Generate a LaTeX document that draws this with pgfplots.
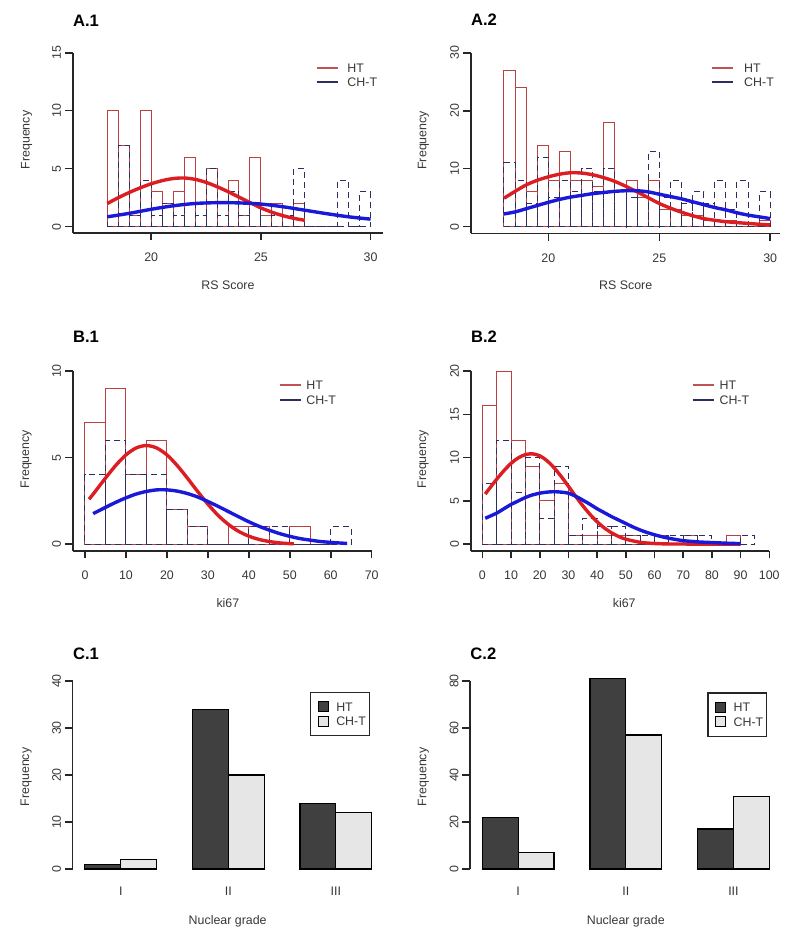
\documentclass[border=0pt]{standalone}
\usepackage{fontspec}
\setmainfont{Liberation Sans}
\usepackage{pgfplots}
\pgfplotsset{compat=1.18}

\definecolor{htred}{RGB}{185,65,65}
\definecolor{chnavy}{RGB}{45,45,95}
\definecolor{curvered}{RGB}{220,30,35}
\definecolor{curveblue}{RGB}{25,25,215}
\definecolor{txt}{RGB}{55,55,55}
\definecolor{bardark}{RGB}{64,64,64}
\definecolor{barlight}{RGB}{230,230,230}

\pgfplotsset{
  rpanel/.style={
    scale only axis, clip=false,
    axis x line*=bottom, axis y line*=left,
    axis line style={line width=0.8pt, color=black!85},
    tick align=outside,
    major tick length=3.85pt,
    tick style={line width=0.8pt, color=black!85},
    tick label style={font=\fontsize{6.2}{7}\selectfont, text=txt},
    /pgf/number format/assume math mode=true,
    xticklabel style={anchor=center},
    yticklabel style={rotate=90, anchor=center},
    xticklabel shift=8.65pt,
    yticklabel shift=4.15pt,
    every axis title/.style={anchor=west, inner sep=0pt, font=\fontsize{8.3}{9}\selectfont\bfseries},
    every axis x label/.style={anchor=center, inner sep=0pt, font=\fontsize{6.2}{7}\selectfont, text=txt},
    every axis y label/.style={rotate=90, anchor=center, inner sep=0pt, font=\fontsize{6.2}{7}\selectfont, text=txt},
  },
  lineleg/.style={
    legend style={draw=none, fill=none, anchor=north west, inner sep=0pt,
      font=\fontsize{6.2}{7}\selectfont, text=txt, row sep=0pt,
      nodes={inner xsep=2.4pt, inner ysep=1.25pt, text height=4.6pt, text depth=0pt}},
    legend cell align=left,
    legend image code/.code={\draw[##1] (0pt,0pt) -- (10.5pt,0pt);},
  },
  boxleg/.style={
    legend style={draw=black!85, line width=0.6pt, fill=white, anchor=north west,
      inner xsep=0.5pt, inner ysep=3.5pt,
      font=\fontsize{6.2}{7}\selectfont, text=txt, row sep=0pt, column sep=2.6pt,
      nodes={inner xsep=1.2pt, inner ysep=1.35pt, text height=4.6pt, text depth=0pt}},
    legend cell align=left,
    legend image code/.code={\path[draw=none, fill=none] (0pt,0pt) rectangle (3.3pt,0pt);
      \draw[##1] (3.3pt,-2.5pt) rectangle (8.3pt,2.5pt);},
  },
  hthist/.style={ybar interval, draw=htred, fill=none, line width=0.5pt, forget plot},
  chhist/.style={ybar interval, draw=chnavy, fill=none, line width=0.5pt, dash pattern=on 3pt off 2pt, forget plot},
  htcurve/.style={curvered, line width=1.7pt, smooth, forget plot},
  chcurve/.style={curveblue, line width=1.7pt, smooth, forget plot},
}

\begin{document}
\begin{tikzpicture}
\path[use as bounding box] (0,0) rectangle (400pt,-471.5pt);

% ---------- A.1 ----------
\begin{axis}[rpanel, lineleg, at={(36.35pt,-116.35pt)}, anchor=south west,
  width=155.3pt, height=90pt,
  xmin=16.42, xmax=30.58, ymin=-0.52, ymax=15,
  xtick={20,25,30}, ytick={0,5,10,15},
  title={A.1}, title style={at={(axis description cs:0,1.18)}},
  xlabel={RS Score}, xlabel style={at={(axis description cs:0.5,-0.29)}},
  ylabel={Frequency}, ylabel style={at={(axis description cs:-0.148,0.515)}},
  legend style={at={(axis description cs:0.781,0.957)}, column sep=2pt}]
\addplot[hthist] coordinates {(18,10) (18.5,7) (19,1) (19.5,10) (20,3) (20.5,2) (21,3) (21.5,6) (22,2)
  (22.5,5) (23,2) (23.5,4) (24,1) (24.5,6) (25,1) (25.5,2) (26,0) (26.5,2) (27,0)};
\addplot[chhist] coordinates {(18,1) (18.5,7) (19,1) (19.5,4) (20,1) (20.5,2) (21,1) (21.5,2) (22,1)
  (22.5,5) (23,1) (23.5,3) (24,1) (24.5,2) (25,2) (25.5,1) (26,1) (26.5,5) (27,0) (27.5,0) (28,0)
  (28.5,4) (29,0) (29.5,3) (30,0)};
\addplot[htcurve] coordinates {(18,2.0) (18.5,2.5) (19,2.95) (19.5,3.35) (20,3.7) (20.5,3.97) (21,4.15)
  (21.5,4.2) (22,4.08) (22.5,3.82) (23,3.45) (23.5,3.02) (24,2.55) (24.5,2.08) (25,1.62) (25.5,1.25)
  (26,0.95) (26.5,0.72) (27,0.55)};
\addplot[chcurve] coordinates {(18,0.85) (19,1.15) (20,1.5) (21,1.8) (22,2.0) (23,2.07) (24,2.05)
  (25,1.95) (26,1.72) (27,1.42) (28,1.12) (29,0.85) (30,0.65)};
\addlegendimage{htred!90!white, line width=1pt}\addlegendentry{HT}
\addlegendimage{chnavy, line width=1pt}\addlegendentry{CH-T}
\end{axis}

% ---------- A.2 ----------
\begin{axis}[rpanel, lineleg, at={(235.35pt,-116.65pt)}, anchor=south west,
  width=154.65pt, height=90.3pt,
  xmin=16.5, xmax=30.44, ymin=-1.14, ymax=30,
  xtick={20,25,30}, ytick={0,10,20,30},
  title={A.2}, title style={at={(axis description cs:0,1.18)}},
  xlabel={RS Score}, xlabel style={at={(axis description cs:0.501,-0.29)}},
  ylabel={Frequency}, ylabel style={at={(axis description cs:-0.153,0.515)}},
  legend style={at={(axis description cs:0.777,0.957)}, column sep=2.5pt}]
\addplot[hthist] coordinates {(18,27) (18.5,24) (19,6) (19.5,14) (20,8) (20.5,13) (21,8) (21.5,8) (22,7)
  (22.5,18) (23,6) (23.5,8) (24,5) (24.5,8) (25,3) (25.5,3) (26,2) (26.5,2) (27,1) (27.5,1) (28,1)
  (28.5,0) (29,0) (29.5,1) (30,0)};
\addplot[chhist] coordinates {(18,11) (18.5,8) (19,4) (19.5,12) (20,5) (20.5,8) (21,6) (21.5,10) (22,6)
  (22.5,10) (23,6) (23.5,5) (24,6) (24.5,13) (25,5) (25.5,8) (26,4) (26.5,6) (27,4) (27.5,8) (28,3)
  (28.5,8) (29,2) (29.5,6) (30,0)};
\addplot[htcurve] coordinates {(18,4.9) (18.5,6.1) (19,7.2) (19.5,8.0) (20,8.6) (20.5,9.05) (21,9.3)
  (21.5,9.25) (22,8.95) (22.5,8.45) (23,7.8) (23.5,6.95) (24,6.0) (24.5,5.0) (25,4.0) (25.5,3.2)
  (26,2.5) (26.5,1.9) (27,1.4) (27.5,1.1) (28,0.86) (28.5,0.7) (29,0.57) (29.5,0.42) (30,0.3)};
\addplot[chcurve] coordinates {(18,2.2) (18.5,2.55) (19,3.1) (19.5,3.65) (20,4.2) (20.5,4.7) (21,5.1)
  (21.5,5.4) (22,5.7) (22.5,5.9) (23,6.1) (23.5,6.2) (24,6.2) (24.5,6.0) (25,5.6) (25.5,5.2) (26,4.8)
  (26.5,4.3) (27,3.8) (27.5,3.3) (28,2.9) (28.5,2.4) (29,2.0) (29.5,1.7) (30,1.4)};
\addlegendimage{htred!90!white, line width=1pt}\addlegendentry{HT}
\addlegendimage{chnavy, line width=1pt}\addlegendentry{CH-T}
\end{axis}

% ---------- B.1 ----------
\begin{axis}[rpanel, lineleg, at={(36.35pt,-275.35pt)}, anchor=south west,
  width=149.5pt, height=89.85pt,
  xmin=-3, xmax=70, ymin=-0.37, ymax=10,
  xtick={0,10,...,70}, ytick={0,5,10},
  title={B.1}, title style={at={(axis description cs:0,1.189)}},
  xlabel={ki67}, xlabel style={at={(axis description cs:0.519,-0.293)}},
  ylabel={Frequency}, ylabel style={at={(axis description cs:-0.156,0.509)}},
  legend style={at={(axis description cs:0.687,0.962)}}]
\addplot[hthist] coordinates {(0,7) (5,9) (10,4) (15,6) (20,2) (25,1) (30,0) (35,1) (40,1) (45,0)
  (50,1) (55,0)};
\addplot[chhist] coordinates {(0,4) (5,6) (10,4) (15,4) (20,2) (25,1) (30,0) (35,0) (40,1) (45,1)
  (50,0) (55,0) (60,1) (65,0)};
\addplot[htcurve] coordinates {(1,2.6) (2.5,3.05) (5,3.82) (7.5,4.55) (10,5.16) (12.5,5.56) (15,5.7)
  (17.5,5.56) (20,5.16) (22.5,4.55) (25,3.82) (27.5,3.05) (30,2.32) (32.5,1.67) (35,1.15) (37.5,0.75)
  (40,0.47) (42.5,0.28) (45,0.16) (47.5,0.08) (50,0.04) (51,0.03)};
\addplot[chcurve] coordinates {(2,1.77) (5,2.13) (7.5,2.42) (10,2.68) (12.5,2.9) (15,3.05) (17.5,3.14)
  (20,3.14) (22.5,3.07) (25,2.93) (27.5,2.73) (30,2.47) (32.5,2.19) (35,1.89) (37.5,1.59) (40,1.3)
  (42.5,1.04) (45,0.82) (47.5,0.62) (50,0.46) (52.5,0.33) (55,0.24) (57.5,0.16) (60,0.11) (62.5,0.07)
  (64,0.05)};
\addlegendimage{htred!90!white, line width=1pt}\addlegendentry{HT}
\addlegendimage{chnavy, line width=1pt}\addlegendentry{CH-T}
\end{axis}

% ---------- B.2 ----------
\begin{axis}[rpanel, lineleg, at={(235.35pt,-275.35pt)}, anchor=south west,
  width=149.3pt, height=89.85pt,
  xmin=-4.06, xmax=100, ymin=-0.74, ymax=20,
  xtick={0,10,...,100}, ytick={0,5,10,15,20},
  title={B.2}, title style={at={(axis description cs:0,1.189)}},
  xlabel={ki67}, xlabel style={at={(axis description cs:0.514,-0.293)}},
  ylabel={Frequency}, ylabel style={at={(axis description cs:-0.159,0.509)}},
  legend style={at={(axis description cs:0.739,0.962)}}]
\addplot[hthist] coordinates {(0,16) (5,20) (10,12) (15,9) (20,5) (25,7) (30,1) (35,1) (40,1) (45,1)
  (50,1) (55,0) (60,1) (65,0) (70,1) (75,0) (80,0) (85,1) (90,0)};
\addplot[chhist] coordinates {(0,7) (5,12) (10,6) (15,10) (20,3) (25,9) (30,1) (35,3) (40,2) (45,2)
  (50,1) (55,1) (60,1) (65,1) (70,1) (75,1) (80,0) (85,0) (90,1) (95,0)};
\addplot[htcurve] coordinates {(1,5.8) (2.5,6.45) (5,7.51) (7.5,8.49) (10,9.34) (12.5,9.97) (15,10.35)
  (17.5,10.44) (20,10.21) (22.5,9.65) (25,8.83) (27.5,7.82) (30,6.7) (32.5,5.55) (35,4.45)
  (37.5,3.46) (40,2.6) (42.5,1.89) (45,1.33) (47.5,0.9) (50,0.59) (55,0.23) (60,0.09) (65,0.04)
  (70,0.03) (80,0.02) (90,0.02)};
\addplot[chcurve] coordinates {(1,3.0) (2.5,3.22) (5,3.6) (7.5,4.1) (10,4.6) (12.5,5.0) (15,5.4)
  (17.5,5.7) (20,5.9) (22.5,6.02) (25,6.07) (27.5,6.02) (30,5.9) (32.5,5.55) (35,5.1) (37.5,4.62)
  (40,4.1) (42.5,3.65) (45,3.2) (47.5,2.8) (50,2.4) (52.5,2.0) (55,1.65) (57.5,1.35) (60,1.1)
  (62.5,0.88) (65,0.7) (67.5,0.55) (70,0.42) (75,0.28) (80,0.2) (85,0.13) (90,0.08)};
\addlegendimage{htred!90!white, line width=1pt}\addlegendentry{HT}
\addlegendimage{chnavy, line width=1pt}\addlegendentry{CH-T}
\end{axis}

% ---------- C.1 ----------
\begin{axis}[rpanel, boxleg, at={(36.35pt,-434.5pt)}, anchor=south west,
  width=155.6pt, height=94pt,
  xmin=0.66, xmax=9.34, ymin=0, ymax=40,
  x axis line style={draw=none}, xtick style={draw=none},
  xtick={2,5,8}, xticklabels={I,II,III}, xticklabel shift=7.5pt,
  ytick={0,10,20,30,40},
  title={C.1}, title style={at={(axis description cs:0,1.145)}},
  xlabel={Nuclear grade}, xlabel style={at={(axis description cs:0.498,-0.277)}},
  ylabel={Frequency}, ylabel style={at={(axis description cs:-0.15,0.49)}},
  legend style={at={(axis description cs:0.7625,0.943)}}]
\addplot[ybar, bar width=1, bar shift=0pt, fill=bardark, draw=black, line width=0.6pt, forget plot]
  coordinates {(1.5,1) (4.5,34) (7.5,14)};
\addplot[ybar, bar width=1, bar shift=0pt, fill=barlight, draw=black, line width=0.6pt, forget plot]
  coordinates {(2.5,2) (5.5,20) (8.5,12)};
\addlegendimage{fill=bardark, draw=black, line width=0.5pt}\addlegendentry{HT}
\addlegendimage{fill=barlight, draw=black, line width=0.5pt}\addlegendentry{CH-T}
\end{axis}

% ---------- C.2 ----------
\begin{axis}[rpanel, boxleg, at={(235pt,-434.5pt)}, anchor=south west,
  width=155.75pt, height=94pt,
  xmin=0.657, xmax=9.34, ymin=0, ymax=80,
  x axis line style={draw=none}, xtick style={draw=none},
  xtick={2,5,8}, xticklabels={I,II,III}, xticklabel shift=7.5pt,
  ytick={0,20,40,60,80},
  title={C.2}, title style={at={(axis description cs:0,1.145)}},
  xlabel={Nuclear grade}, xlabel style={at={(axis description cs:0.5,-0.277)}},
  ylabel={Frequency}, ylabel style={at={(axis description cs:-0.15,0.49)}},
  legend style={at={(axis description cs:0.762,0.94)}}]
\addplot[ybar, bar width=1, bar shift=0pt, fill=bardark, draw=black, line width=0.6pt, forget plot]
  coordinates {(1.5,22) (4.5,81) (7.5,17)};
\addplot[ybar, bar width=1, bar shift=0pt, fill=barlight, draw=black, line width=0.6pt, forget plot]
  coordinates {(2.5,7) (5.5,57) (8.5,31)};
\addlegendimage{fill=bardark, draw=black, line width=0.5pt}\addlegendentry{HT}
\addlegendimage{fill=barlight, draw=black, line width=0.5pt}\addlegendentry{CH-T}
\end{axis}

\end{tikzpicture}
\end{document}
